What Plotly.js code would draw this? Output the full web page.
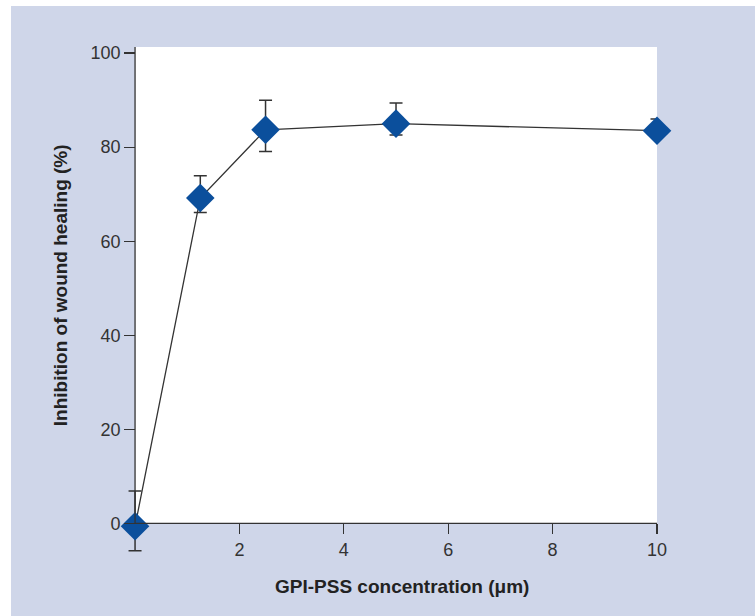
<!DOCTYPE html>
<html>
<head>
<meta charset="utf-8">
<script src="https://cdn.plot.ly/plotly-3.0.1.min.js"></script>
<style>
  html, body { margin: 0; padding: 0; background: #ffffff; }
  #chart { position: absolute; left: 11px; top: 6px; width: 744px; height: 610px; }
</style>
</head>
<body>
<div id="chart"></div>
<script>
// Data
const concentration = [0, 1.25, 2.5, 5, 10];
const inhibition = [-0.6, 69.2, 83.7, 85.0, 83.5];
const errorPlus = [7.5, 4.7, 6.3, 4.4, 2.5];
const errorMinus = [5.2, 3.1, 4.6, 2.4, 1.0];
const xTicks = [2, 4, 6, 8, 10];
const yTicks = [0, 20, 40, 60, 80, 100];
const xTitle = 'GPI-PSS concentration (μm)';
const yTitle = 'Inhibition of wound healing (%)';

const yMin = -8, yMax = 101.3, xMin = -0.25, xMax = 10;
const font = 'Liberation Sans, Arial, Helvetica, sans-serif';
const axisColor = '#333333';

const trace = {
  x: concentration,
  y: inhibition,
  type: 'scatter',
  mode: 'lines+markers',
  cliponaxis: false,
  line: { color: '#333333', width: 1.3 },
  marker: { symbol: 'diamond', size: 22, color: '#0b4f9c', line: { width: 0 } },
  error_y: {
    type: 'data', symmetric: false,
    array: errorPlus, arrayminus: errorMinus,
    color: '#333333', thickness: 1.5, width: 6.5
  },
  hoverinfo: 'skip'
};

const layout = {
  width: 744, height: 610,
  paper_bgcolor: '#cfd6e9',
  plot_bgcolor: 'rgba(0,0,0,0)',
  margin: { l: 111, r: 98, t: 41, b: 55, pad: 0 },
  showlegend: false,
  font: { family: font, color: '#333333', size: 18 },
  shapes: [
    { type: 'rect', layer: 'below', xref: 'x', yref: 'y', x0: 0, x1: xMax, y0: 0, y1: yMax,
      fillcolor: '#ffffff', line: { width: 0 } },
    { type: 'line', layer: 'above', xref: 'x', yref: 'y', x0: 0, x1: 0, y0: 0, y1: yMax,
      line: { color: axisColor, width: 1.3 } },
    { type: 'line', layer: 'above', xref: 'x', yref: 'y', x0: 0, x1: xMax, y0: 0, y1: 0,
      line: { color: axisColor, width: 1.3 } }
  ],
  annotations: [
    { text: yTitle, xref: 'paper', yref: 'y', x: 0, y: yMax / 2, xshift: -62,
      xanchor: 'center', yanchor: 'middle', textangle: -90, showarrow: false,
      font: { size: 19, color: '#222222', family: font, weight: 'bold' } },
    { text: xTitle, xref: 'paper', yref: 'paper', x: 0.5, y: 0, xshift: 12, yshift: -25,
      xanchor: 'center', yanchor: 'middle', showarrow: false,
      font: { size: 19, color: '#222222', family: font, weight: 'bold' } }
  ],
  xaxis: {
    range: [xMin, xMax], tickvals: xTicks, ticktext: xTicks.map(String),
    anchor: 'free', position: (0 - yMin) / (yMax - yMin),
    ticks: 'outside', ticklen: 10, tickwidth: 1.3, tickcolor: axisColor,
    showline: false,
    showgrid: false, zeroline: false, automargin: false,
    tickfont: { size: 18, color: '#333333' }
  },
  yaxis: {
    range: [yMin, yMax], tickvals: yTicks, ticktext: yTicks.map(String),
    anchor: 'free', position: (0 - xMin) / (xMax - xMin),
    ticks: 'outside', ticklen: 11, tickwidth: 1.3, tickcolor: axisColor,
    showline: false,
    showgrid: false, zeroline: false, automargin: false,
    tickfont: { size: 18, color: '#333333' }
  }
};

Plotly.newPlot('chart', [trace], layout, { staticPlot: true, displayModeBar: false });
</script>
</body>
</html>
